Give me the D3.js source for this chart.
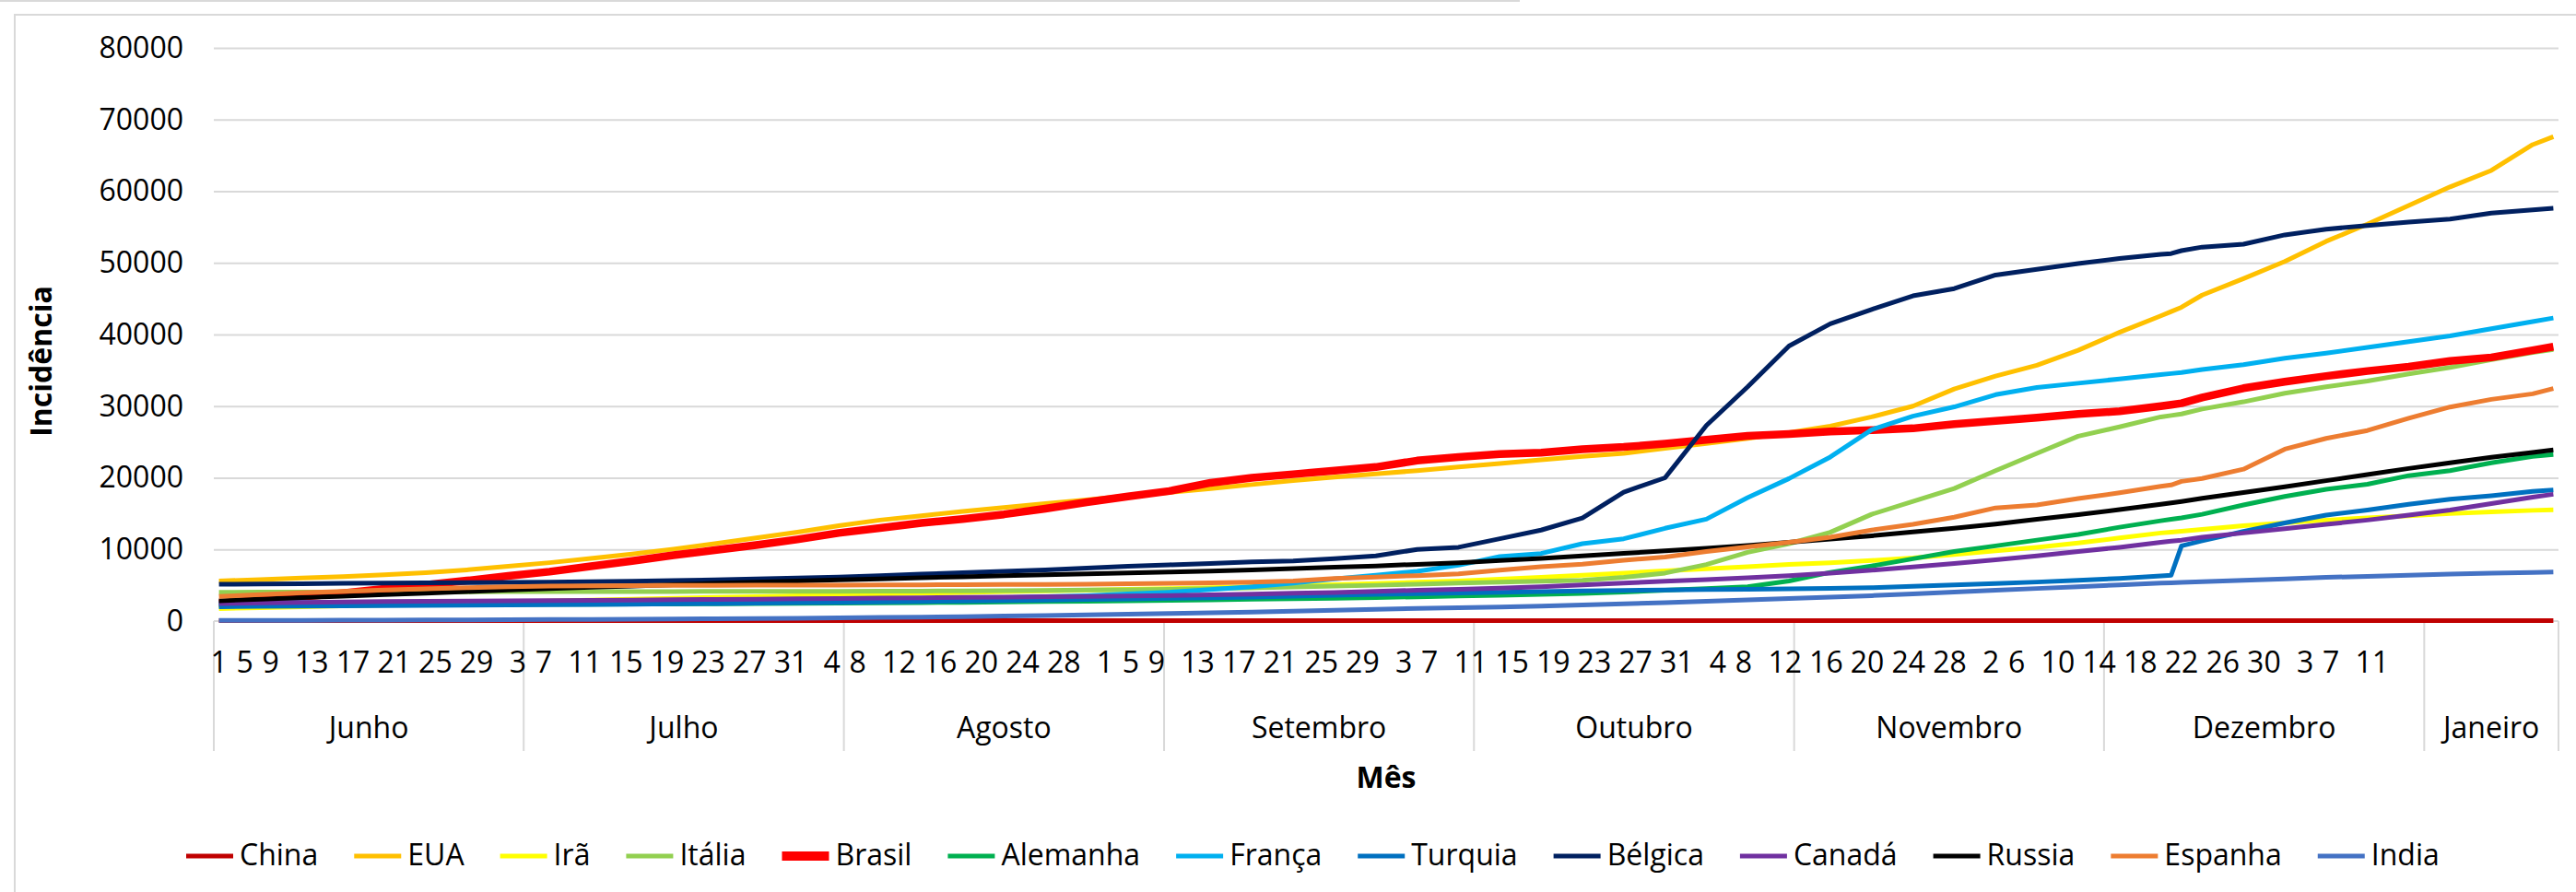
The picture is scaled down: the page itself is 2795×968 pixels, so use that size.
<!DOCTYPE html>
<html>
<head>
<meta charset="utf-8">
<script src="https://cdn.jsdelivr.net/npm/d3@7"></script>
<style>
  body { margin: 0; background: #fff; }
  text { font-family: "Open Sans", sans-serif; fill: #000; }
</style>
</head>
<body>
<svg id="chart" width="2795" height="968"></svg>
<script>
// months on the category axis and how many days of each are in the sheet
const monthNames = ["Junho", "Julho", "Agosto", "Setembro", "Outubro", "Novembro", "Dezembro", "Janeiro"];
const monthDays = [30, 31, 31, 30, 31, 30, 31, 13];
const labelStep = 4;
const yTicks = [0, 10000, 20000, 30000, 40000, 50000, 60000, 70000, 80000];

// day index (0 = 1 Junho) of every value below
const sampleDays = [
  0, 4, 8, 12, 16, 20, 24, 28, 32, 36,
  40, 44, 48, 52, 56, 60, 64, 68, 72, 76,
  80, 84, 88, 92, 96, 100, 104, 108, 112, 116,
  120, 124, 128, 132, 136, 140, 144, 148, 152, 156,
  160, 164, 168, 172, 176, 180, 184, 188, 189, 190,
  192, 196, 200, 204, 208, 212, 216, 220, 224, 226
];

const china = [
  58, 59, 59, 60, 60, 60, 60, 60, 61, 61,
  61, 61, 61, 62, 62, 62, 62, 62, 62, 62,
  63, 63, 63, 63, 63, 63, 63, 63, 63, 64,
  64, 64, 64, 64, 64, 64, 64, 64, 64, 65,
  65, 65, 65, 65, 65, 65, 65, 65, 65, 65,
  65, 66, 66, 66, 66, 66, 66, 67, 67, 67
];
const eua = [
  5600, 5800, 6000, 6200, 6450, 6750, 7150, 7650, 8150, 8750,
  9350, 10050, 10800, 11600, 12400, 13300, 14100, 14700, 15300, 15850,
  16400, 16900, 17500, 17950, 18500, 19050, 19600, 20100, 20550, 21000,
  21500, 22000, 22500, 23000, 23400, 24100, 24800, 25500, 26300, 27200,
  28500, 30000, 32400, 34200, 35700, 37800, 40300, 42600, 43200, 43800,
  45500, 47800, 50200, 53000, 55400, 58000, 60600, 62900, 66500, 67600
];
const ira = [
  1750, 1880, 2000, 2120, 2250, 2380, 2520, 2660, 2800, 2940,
  3060, 3180, 3300, 3420, 3530, 3640, 3760, 3880, 3990, 4100,
  4210, 4320, 4430, 4540, 4660, 4800, 4940, 5090, 5250, 5420,
  5600, 5850, 6100, 6400, 6700, 7000, 7300, 7600, 7900, 8150,
  8450, 8800, 9300, 9800, 10300, 10900, 11600, 12300, 12420, 12540,
  12800, 13300, 13700, 14100, 14400, 14700, 15000, 15250, 15450, 15520
];
const italia = [
  4030, 4040, 4050, 4060, 4070, 4080, 4090, 4100, 4110, 4120,
  4125, 4130, 4135, 4140, 4145, 4150, 4170, 4190, 4220, 4250,
  4290, 4330, 4380, 4450, 4520, 4620, 4750, 4880, 5000, 5150,
  5300, 5450, 5550, 5700, 6100, 6700, 7900, 9600, 10800, 12400,
  14900, 16700, 18500, 21000, 23400, 25800, 27100, 28500, 28700, 28900,
  29600, 30600, 31800, 32700, 33500, 34500, 35400, 36500, 37500, 37900
];
const brasil = [
  2480, 2950, 3400, 3900, 4500, 5050, 5650, 6300, 6900, 7650,
  8400, 9200, 9900, 10600, 11400, 12300, 13000, 13700, 14250, 14900,
  15700, 16600, 17400, 18150, 19300, 20000, 20500, 21000, 21500, 22400,
  22900, 23300, 23500, 24000, 24300, 24750, 25300, 25850, 26100, 26450,
  26650, 26900, 27500, 27950, 28400, 28900, 29300, 30000, 30200, 30400,
  31200, 32500, 33400, 34200, 34900, 35500, 36300, 36800, 37800, 38300
];
const alemanha = [
  2190, 2210, 2230, 2250, 2265, 2280, 2300, 2320, 2335, 2350,
  2370, 2390, 2410, 2440, 2470, 2500, 2540, 2580, 2620, 2670,
  2720, 2780, 2840, 2900, 2970, 3040, 3110, 3190, 3290, 3390,
  3490, 3600, 3730, 3870, 4050, 4300, 4550, 4800, 5600, 6800,
  7700, 8700, 9700, 10500, 11300, 12100, 13100, 14000, 14200, 14400,
  14900, 16200, 17400, 18400, 19100, 20300, 21000, 22100, 23000, 23250
];
const franca = [
  2550, 2570, 2590, 2600, 2610, 2620, 2640, 2660, 2680, 2700,
  2720, 2750, 2780, 2820, 2860, 2900, 2980, 3050, 3150, 3250,
  3400, 3550, 3780, 4030, 4400, 4800, 5300, 5870, 6400, 6950,
  7800, 9000, 9430, 10800, 11490, 12950, 14230, 17230, 19890, 22900,
  26700, 28600, 29900, 31600, 32600, 33200, 33800, 34400, 34550, 34700,
  35100, 35800, 36700, 37400, 38200, 39000, 39800, 40800, 41800, 42300
];
const turquia = [
  2000, 2050, 2100, 2130, 2160, 2200, 2230, 2260, 2290, 2320,
  2350, 2400, 2450, 2500, 2560, 2620, 2680, 2740, 2800, 2870,
  2940, 3010, 3090, 3170, 3250, 3350, 3480, 3600, 3720, 3830,
  3930, 4030, 4120, 4200, 4280, 4350, 4400, 4450, 4500, 4560,
  4650, 4850, 5050, 5250, 5450, 5700, 5950, 6300, 6400, 10500,
  11200, 12500, 13700, 14800, 15500, 16300, 17000, 17500, 18100, 18300
];
const belgica = [
  5140, 5180, 5220, 5260, 5300, 5330, 5360, 5400, 5440, 5490,
  5560, 5650, 5750, 5880, 6000, 6150, 6350, 6550, 6750, 6950,
  7150, 7400, 7650, 7850, 8050, 8250, 8400, 8700, 9100, 10000,
  10300, 11500, 12700, 14400, 18000, 20000, 27300, 32700, 38400, 41500,
  43500, 45400, 46400, 48300, 49100, 49900, 50600, 51200, 51300, 51700,
  52200, 52600, 53900, 54700, 55200, 55700, 56100, 56950, 57400, 57620
];
const canada = [
  2450, 2550, 2620, 2680, 2730, 2770, 2800, 2830, 2860, 2900,
  2940, 2980, 3020, 3070, 3110, 3150, 3200, 3250, 3300, 3350,
  3400, 3450, 3510, 3570, 3650, 3750, 3880, 4000, 4150, 4300,
  4450, 4600, 4800, 5050, 5300, 5550, 5800, 6050, 6350, 6700,
  7100, 7550, 8050, 8550, 9100, 9700, 10300, 11000, 11150, 11300,
  11700, 12300, 12900, 13500, 14100, 14800, 15500, 16400, 17300, 17700
];
const russia = [
  2840, 3050, 3270, 3480, 3700, 3900, 4120, 4330, 4530, 4720,
  4900, 5080, 5260, 5430, 5600, 5760, 5900, 6050, 6180, 6320,
  6460, 6590, 6720, 6850, 6990, 7150, 7330, 7510, 7700, 7920,
  8150, 8450, 8750, 9100, 9450, 9800, 10150, 10550, 11000, 11450,
  11900, 12450, 12950, 13550, 14200, 14850, 15550, 16300, 16500, 16700,
  17150, 17950, 18750, 19600, 20450, 21300, 22100, 22850, 23550, 23880
];
const espanha = [
  3430, 3700, 3950, 4150, 4350, 4500, 4650, 4780, 4880, 4930,
  4960, 4980, 5000, 5010, 5020, 5030, 5040, 5060, 5080, 5100,
  5120, 5140, 5200, 5280, 5350, 5420, 5600, 5950, 6150, 6350,
  6600, 7100, 7600, 7950, 8500, 8950, 9700, 10350, 11000, 11700,
  12700, 13500, 14500, 15800, 16200, 17100, 17900, 18800, 19000, 19500,
  19900, 21200, 24000, 25500, 26600, 28300, 29880, 30950, 31720, 32450
];
const india = [
  90, 100, 110, 120, 140, 150, 170, 190, 210, 230,
  260, 290, 320, 360, 400, 440, 500, 560, 620, 700,
  780, 870, 960, 1060, 1160, 1270, 1390, 1510, 1640, 1760,
  1880, 1950, 2100, 2250, 2400, 2580, 2760, 2950, 3150, 3350,
  3550, 3800, 4050, 4300, 4550, 4800, 5050, 5300, 5350, 5400,
  5500, 5700, 5900, 6100, 6250, 6400, 6550, 6680, 6800, 6860
];

const seriesNames = ["China", "EUA", "Irã", "Itália", "Brasil", "Alemanha", "França",
                     "Turquia", "Bélgica", "Canadá", "Russia", "Espanha", "India"];
const seriesValues = [china, eua, ira, italia, brasil, alemanha, franca,
                      turquia, belgica, canada, russia, espanha, india];
const seriesColors = ["#C00000", "#FFC000", "#FFFF00", "#92D050", "#FF0000", "#00B050", "#00B0F0",
                      "#0070C0", "#002060", "#7030A0", "#000000", "#ED7D31", "#4472C4"];

// one category per day
const categories = [];
monthNames.forEach((m, mi) => {
  for (let d = 1; d <= monthDays[mi]; d++) categories.push({ month: m, day: d });
});

const svg = d3.select("#chart");
const plotLeft = 232, plotRight = 2776, plotTop = 52, plotBottom = 674;
const grey = "#D9D9D9";

const x = d3.scaleBand().domain(d3.range(categories.length)).range([plotLeft, plotRight]);
const y = d3.scaleLinear().domain([0, 80000]).range([plotBottom, plotTop]);
const cx = i => x(i) + x.bandwidth() / 2;

// chart area border
svg.append("line").attr("x1", 0).attr("x2", 1649).attr("y1", 1).attr("y2", 1)
  .attr("stroke", grey).attr("stroke-width", 2);
svg.append("path").attr("d", "M16,968V16H2795").attr("fill", "none")
  .attr("stroke", grey).attr("stroke-width", 2);

// gridlines
svg.append("g").attr("transform", `translate(${plotLeft},0)`)
  .call(d3.axisLeft(y).tickValues(yTicks.slice(1)).tickSize(-(plotRight - plotLeft)).tickFormat(""))
  .call(g => g.select(".domain").remove())
  .call(g => g.selectAll("line").attr("stroke", grey).attr("stroke-width", 2));

// y labels
svg.append("g").attr("transform", `translate(${plotLeft},0)`)
  .call(d3.axisLeft(y).tickValues(yTicks).tickSize(0).tickPadding(33).tickFormat(d3.format("d")))
  .call(g => g.select(".domain").remove())
  .call(g => g.selectAll("text").attr("font-size", 32).attr("font-family", "Open Sans"));

// category axis line and month separators
svg.append("line").attr("x1", plotLeft).attr("x2", plotRight).attr("y1", plotBottom).attr("y2", plotBottom)
  .attr("stroke", grey).attr("stroke-width", 2);
const monthStart = [];
let acc = 0;
monthDays.forEach(n => { monthStart.push(acc); acc += n; });
const bounds = monthStart.map(s => x(s)).concat([plotRight]);
svg.append("g").selectAll("line").data(bounds).join("line")
  .attr("x1", d => d).attr("x2", d => d).attr("y1", plotBottom).attr("y2", 815)
  .attr("stroke", grey).attr("stroke-width", 2);

// month labels
svg.append("g").selectAll("text").data(monthNames).join("text")
  .attr("x", (d, i) => (bounds[i] + bounds[i + 1]) / 2)
  .attr("y", 801).attr("text-anchor", "middle").attr("font-size", 32)
  .text(d => d);

// day labels, every 4th category, packed the way the sheet draws them
const tickIdx = d3.range(0, categories.length, labelStep);
const tickX = [];
let pos = cx(0);
tickIdx.forEach((ci, k) => {
  if (k > 0) {
    const a = String(categories[tickIdx[k - 1]].day).length;
    const b = String(categories[ci].day).length;
    pos += (a === 1 && b === 1) ? 28 : 44.7;
  }
  tickX.push(pos);
});
svg.append("g").selectAll("text").data(tickIdx).join("text")
  .attr("x", (d, k) => tickX[k]).attr("y", 730)
  .attr("text-anchor", "middle").attr("font-size", 32)
  .text(d => categories[d].day);

// axis titles
svg.append("text").attr("x", (plotLeft + plotRight) / 2).attr("y", 855)
  .attr("text-anchor", "middle").attr("font-size", 32).attr("font-weight", "bold")
  .text("Mês");
svg.append("text").attr("transform", "translate(56,392) rotate(-90)")
  .attr("text-anchor", "middle").attr("font-size", 32).attr("font-weight", "bold")
  .text("Incidência");

// lines
const line = d3.line()
  .x((d, i) => cx(sampleDays[i]))
  .y(d => y(d));
svg.append("g").selectAll("path").data(seriesValues).join("path")
  .attr("d", d => line(d))
  .attr("fill", "none")
  .attr("stroke", (d, i) => seriesColors[i])
  .attr("stroke-width", (d, i) => seriesNames[i] === "Brasil" ? 8.5 : 5)
  .attr("stroke-linejoin", "round");

// legend
const legend = svg.append("g");
let lx = 202;
seriesNames.forEach((name, i) => {
  legend.append("line").attr("x1", lx).attr("x2", lx + 51).attr("y1", 929).attr("y2", 929)
    .attr("stroke", seriesColors[i]).attr("stroke-width", name === "Brasil" ? 10 : 5);
  const t = legend.append("text").attr("x", lx + 58).attr("y", 939)
    .attr("font-size", 32).text(name);
  lx += 58 + t.node().getComputedTextLength() + 39;
});
</script>
</body>
</html>
